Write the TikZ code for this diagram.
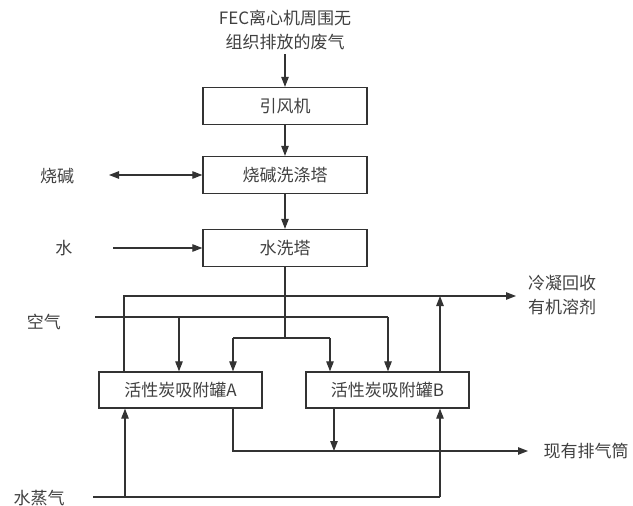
\documentclass[tikz,border=0pt]{standalone}
\usepackage{fontspec}
\setmainfont{Noto Sans CJK SC}
\usetikzlibrary{arrows.meta}
\definecolor{linec}{HTML}{333333}
\definecolor{textc}{HTML}{404040}
\tikzset{
  procbox/.style={draw=linec, line width=1.3pt, minimum width=164pt, minimum height=37pt, inner sep=0pt, text=textc, font=\fontsize{17}{20}\selectfont},
  lbl/.style={text=textc, inner sep=0pt, font=\fontsize{17}{24}\selectfont, align=center},
  flow/.style={draw=linec, line width=1.1pt, -{Triangle[length=10pt,width=7.5pt]}},
  plain/.style={draw=linec, line width=1.1pt},
  both/.style={draw=linec, line width=1.1pt, {Triangle[length=10pt,width=7.5pt]}-{Triangle[length=10pt,width=7.5pt]}}
}
\begin{document}
\begin{tikzpicture}[x=1pt,y=-1pt]
\useasboundingbox (0,0) rectangle (633,506);
% labels
\node[lbl] (src) at (285,30) {FEC离心机周围无\\组织排放的废气};
\node[lbl] (naoh) at (57,176) {烧碱};
\node[lbl] (water) at (64,248) {水};
\node[lbl] (air) at (44,322) {空气};
\node[lbl] (steam) at (39,498) {水蒸气};
\node[lbl] (cond) at (562,295) {冷凝回收\\有机溶剂};
\node[lbl] (stack) at (586,451) {现有排气筒};
% boxes
\node[procbox] (fan) at (285,106) {引风机};
\node[procbox] (caus) at (285,175) {烧碱洗涤塔};
\node[procbox] (wash) at (285,248) {水洗塔};
\node[procbox, minimum width=163pt, minimum height=36pt] (A) at (180.5,390) {活性炭吸附罐A};
\node[procbox, minimum width=163pt, minimum height=36pt] (B) at (387.5,390) {活性炭吸附罐B};
% helper coordinates
\coordinate (srcend) at (285,54);
\coordinate (naohend) at (109,175);
\coordinate (waterend) at (113,248);
\coordinate (split) at (285,338);
\coordinate (splitL) at (233,338);
\coordinate (splitR) at (330,338);
\coordinate (airL) at (95,317);
\coordinate (airA) at (179,317);
\coordinate (airB) at (388,317);
\coordinate (topL) at (124,296);
\coordinate (topB) at (440,296);
\coordinate (condend) at (516,296);
\coordinate (botA) at (233,451);
\coordinate (botB) at (334,451);
\coordinate (stackend) at (528,451);
\coordinate (steamL) at (93,497);
\coordinate (steamA) at (125,497);
\coordinate (steamB) at (440,497);
% main chain
\draw[flow] (srcend) -- (fan.north);
\draw[flow] (fan.south) -- (caus.north);
\draw[flow] (caus.south) -- (wash.north);
\draw[both] (naohend) -- (caus.west);
\draw[flow] (waterend) -- (wash.west);
% split to adsorbers
\draw[plain] (wash.south) -- (split);
\draw[plain] (splitL) -- (splitR);
\draw[flow] (splitL) -- (splitL |- A.north);
\draw[flow] (splitR) -- (splitR |- B.north);
% air
\draw[plain] (airL) -- (airB);
\draw[flow] (airA) -- (airA |- A.north);
\draw[flow] (airB) -- (airB |- B.north);
% to condensation
\draw[flow] (topL |- A.north) -- (topL) -- (condend);
\draw[flow] (topB |- B.north) -- (topB);
% to stack
\draw[flow] (botA |- A.south) -- (botA) -- (stackend);
\draw[flow] (botB |- B.south) -- (botB);
% steam
\draw[plain] (steamL) -- (steamB);
\draw[flow] (steamA) -- (steamA |- A.south);
\draw[flow] (steamB) -- (steamB |- B.south);
\end{tikzpicture}
\end{document}
